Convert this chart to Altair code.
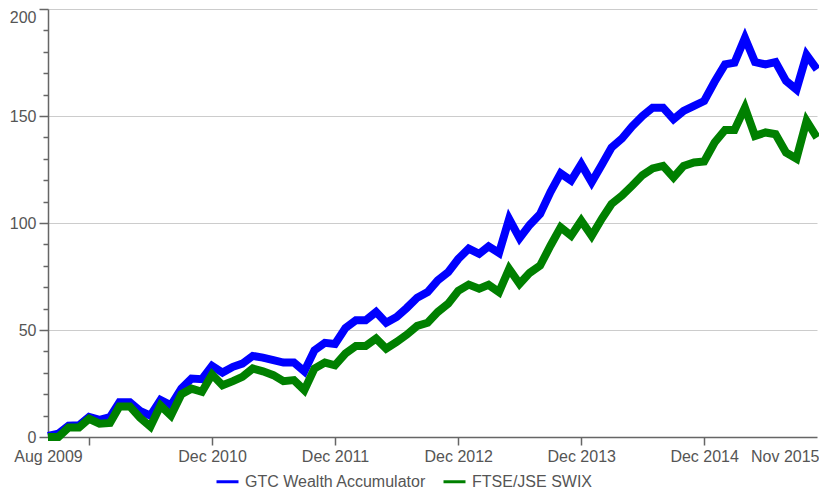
import altair as alt
import pandas as pd

# Monthly points, Aug 2009 .. Nov 2015
months = pd.date_range("2009-08-01", "2015-11-01", freq="MS").strftime("%Y-%m-%d").tolist()

series_names = ["GTC Wealth Accumulator", "FTSE/JSE SWIX"]
series_colors = ["#0000ff", "#008000"]

gtc = [0.5, 1.6, 5.3, 5.5, 9.4, 8.0, 9.3, 16.2, 16.2, 12.2,
       10.0, 17.3, 14.8, 22.7, 27.3, 27.0, 33.2, 30.1, 32.8, 34.3,
       37.9, 37.1, 35.9, 34.8, 34.8, 30.7, 40.5, 44.0, 43.5, 50.9,
       54.5, 54.5, 58.4, 53.4, 56.1, 60.3, 65.1, 67.7, 73.2, 77.0,
       83.2, 88.0, 85.6, 89.1, 86.0, 101.9, 92.9, 99.1, 104.2, 114.6,
       123.2, 119.8, 127.5, 119.0, 127.5, 135.3, 139.5, 145.1, 150.0, 153.9,
       153.9, 148.5, 152.4, 154.7, 157.0, 166.0, 174.1, 174.9, 186.5, 175.2,
       174.1, 175.2, 166.4, 162.4, 178.5, 171.8]

swix = [0.0, 0.0, 4.4, 4.4, 8.5, 6.2, 6.6, 14.3, 14.3, 9.0,
        4.9, 14.7, 10.0, 20.0, 22.6, 21.1, 29.2, 24.2, 26.1, 28.1,
        32.0, 30.7, 28.9, 26.1, 26.6, 21.9, 32.0, 34.8, 33.5, 39.0,
        42.5, 42.5, 46.0, 41.3, 44.4, 47.8, 51.9, 53.4, 58.4, 62.3,
        68.3, 71.2, 69.3, 71.1, 67.7, 78.6, 71.6, 76.7, 80.1, 89.5,
        98.0, 94.1, 101.1, 94.0, 102.2, 108.9, 112.8, 117.4, 122.4, 125.5,
        126.7, 121.3, 126.7, 128.3, 128.8, 137.6, 143.5, 143.5, 153.9, 140.7,
        142.3, 141.5, 132.9, 130.1, 147.7, 139.9]

y_ticks = list(range(0, 201, 10))

n = len(months)
assert len(gtc) == n and len(swix) == n

df = pd.DataFrame({
    "date": months + months,
    "value": gtc + swix,
    "series": [series_names[0]] * n + [series_names[1]] * n,
})

FONT = "Liberation Sans"
TXT = "#555555"

x_vals = [alt.DateTime(year=2009, month=8, date=1, utc=True),
          alt.DateTime(year=2009, month=12, date=1, utc=True),
          alt.DateTime(year=2010, month=12, date=1, utc=True),
          alt.DateTime(year=2011, month=12, date=1, utc=True),
          alt.DateTime(year=2012, month=12, date=1, utc=True),
          alt.DateTime(year=2013, month=12, date=1, utc=True),
          alt.DateTime(year=2014, month=12, date=1, utc=True),
          alt.DateTime(year=2015, month=11, date=1, utc=True)]

x_enc = alt.X(
    "date:T",
    title=None,
    scale=alt.Scale(type="utc", domain=[x_vals[0], x_vals[-1]], nice=False),
    axis=alt.Axis(
        values=x_vals,
        labelExpr="(utcyear(datum.value)==2009 && utcmonth(datum.value)==11) ? '' : utcFormat(datum.value, '%b %Y')",
        grid=False,
        tickSize=8,
        tickOpacity={"condition": {"test": "utcmonth(datum.value)==11", "value": 1}, "value": 0},
        labelAlign={"condition": {"test": "utcyear(datum.value)==2015", "value": "right"}, "value": "center"},
        labelOffset={"condition": {"test": "utcyear(datum.value)==2015", "value": 2}, "value": 0},
        labelPadding=3,
        labelOverlap=False,
        labelFlush=False,
        labelBound=False,
    ),
)

y_enc = alt.Y(
    "value:Q",
    title=None,
    scale=alt.Scale(domain=[0, 200], nice=False),
    axis=alt.Axis(
        values=y_ticks,
        labelExpr="datum.value % 50 == 0 ? datum.label : ''",
        tickSize={"condition": {"test": "datum.value % 50 == 0", "value": 9}, "value": 5},
        gridOpacity={"condition": {"test": "datum.value % 50 == 0 && datum.value > 0", "value": 1}, "value": 0},
        labelBaseline={"condition": {"test": "datum.value == 200", "value": "top"}, "value": "middle"},
        labelPadding=3,
        labelOverlap=False,
        labelFlush=False,
    ),
)

color_enc = alt.Color(
    "series:N",
    scale=alt.Scale(domain=series_names, range=series_colors),
    legend=alt.Legend(
        title=None,
        orient="none",
        direction="horizontal",
        legendX=167,
        legendY=460,
        symbolType="stroke",
        symbolSize=484,
        symbolStrokeWidth=3,
        labelOffset=5,
        columnPadding=10,
        labelFont=FONT,
        labelFontSize=16,
        labelColor=TXT,
        labelLimit=400,
    ),
)

base = alt.Chart(df).mark_line(strokeWidth=8).encode(x=x_enc, y=y_enc, color=color_enc)

blue = base.transform_filter(alt.datum.series == series_names[0])
green = base.transform_filter(alt.datum.series == series_names[1])

chart = alt.layer(blue, green).properties(
    width=769,
    height=428,
    autosize=alt.AutoSizeParams(type="none"),
    padding={"left": 40, "top": 1, "right": 2, "bottom": 56},
).configure_view(
    stroke=None
).configure_axis(
    labelFont=FONT,
    labelFontSize=16,
    labelColor=TXT,
    domainColor="#666666",
    domainWidth=1.5,
    tickColor="#666666",
    tickWidth=1.5,
    gridColor="#cccccc",
    gridWidth=1,
)

chart.save("out.html", embed_options={"renderer": "svg", "actions": False})
